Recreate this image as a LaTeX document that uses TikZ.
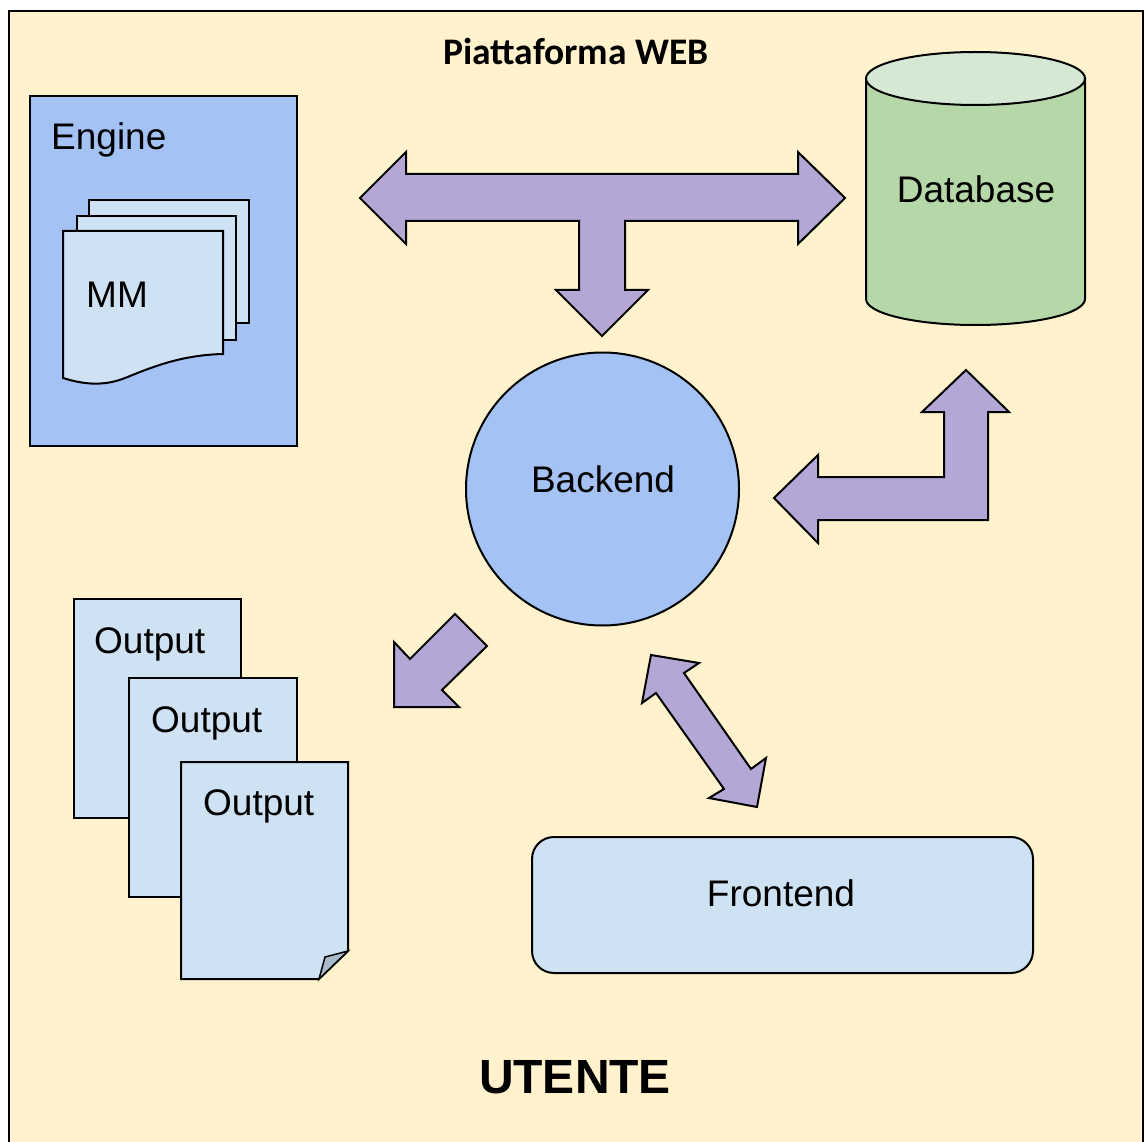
\documentclass[tikz,border=0pt]{standalone}
\usepackage{fontspec}
\setmainfont{Liberation Sans}
\newfontfamily\calibri{Carlito}
\usetikzlibrary{shapes.geometric}
\definecolor{bgyellow}{HTML}{FFF2CC}
\definecolor{engblue}{HTML}{A4C2F4}
\definecolor{docblue}{HTML}{CFE2F3}
\definecolor{arrowpurple}{HTML}{B4A7D6}
\definecolor{dbgreen}{HTML}{B6D7A8}
\definecolor{dbtopgreen}{HTML}{D5E8D4}
\definecolor{foldgray}{HTML}{A9BACB}
\tikzset{
  lbl/.style={font=\fontsize{37}{40}\selectfont, inner sep=0pt},
  outl/.style={draw=black, line width=2pt},
  blockarrow/.style={outl, fill=arrowpurple, line join=miter},
  docpage/.style={outl, fill=docblue},
}
\begin{document}
\begin{tikzpicture}[x=1pt,y=-1pt]
\useasboundingbox (0,0) rectangle (1144,1142);
\clip (0,0) rectangle (1144,1142);
\fill[white] (0,0) rectangle (1144,1142);
% outer frame
\draw[outl, fill=bgyellow] (9,11) rectangle (1143,1170);
\node[inner sep=0pt, anchor=base, font=\calibri\bfseries\fontsize{37.5}{40}\selectfont] (title) at (576,65) {Piattaforma WEB};

% Engine
\node[outl, fill=engblue, anchor=north west, minimum width=267pt, minimum height=350pt, inner sep=0pt] (engine) at (29,95) {};
\node[lbl, anchor=base west] (enginelbl) at (51,150) {Engine};
\draw[docpage] (89,200) rectangle (249,323);
\draw[docpage] (77,216) rectangle (236,340);
\draw[docpage] (63,231) -- (223,231) -- (223,354) .. controls (180,355) and (150,368) .. (125,378) .. controls (105,386) and (85,385) .. (63,378) -- cycle;
\node[lbl, anchor=base west] (mm) at (86,308) {MM};

% T arrow
\draw[blockarrow] (360,198) -- (406,152) -- (406,174) -- (798,174) -- (798,152) -- (845,198) -- (798,244) -- (798,221) -- (625,221) -- (625,290) -- (648,290) -- (602,336) -- (556,290) -- (579,290) -- (579,221) -- (406,221) -- (406,244) -- cycle;

% Database
\fill[dbgreen] (866,78) -- (866,299) .. controls (866,313.4) and (915,325) .. (975.5,325) .. controls (1036,325) and (1085,313.4) .. (1085,299) -- (1085,78) -- cycle;
\draw[outl] (866,78) -- (866,299) .. controls (866,313.4) and (915,325) .. (975.5,325) .. controls (1036,325) and (1085,313.4) .. (1085,299) -- (1085,78);
\node[ellipse, outl, fill=dbtopgreen, minimum width=219pt, minimum height=53pt, inner sep=0pt] (dbtop) at (975.5,78.5) {};
\node[lbl, anchor=base] (db) at (976,203) {Database};

% Backend
\node[circle, outl, fill=engblue, minimum size=273pt, inner sep=0pt] (backend) at (602.5,489) {};
\node[lbl, anchor=base] (backendlbl) at (603,492) {Backend};

% L arrow
\draw[blockarrow] (774,498) -- (818,455) -- (818,477) -- (944,477) -- (944,412) -- (922,412) -- (966,370) -- (1009,412) -- (988,412) -- (988,520) -- (818,520) -- (818,543) -- cycle;

% arrow to outputs
\draw[blockarrow] (394,642) -- (410,659) -- (455,614) -- (487,646) -- (442,690) -- (459,707) -- (394,707) -- cycle;

% double arrow backend-frontend
\draw[blockarrow] (651,655) -- (699,663) -- (684,673) -- (751,769) -- (766,758) -- (757,807) -- (709,798) -- (724,789) -- (656,693) -- (642,703) -- cycle;

% Outputs
\node[docpage, anchor=north west, minimum width=167pt, minimum height=219pt, inner sep=0pt] (out1) at (73,598) {};
\node[lbl, anchor=base west] (out1lbl) at (94,653) {Output};
\node[docpage, anchor=north west, minimum width=168pt, minimum height=219pt, inner sep=0pt] (out2) at (128,677) {};
\node[lbl, anchor=base west] (out2lbl) at (151,732) {Output};
\draw[docpage] (181,762) -- (348,762) -- (348,951) -- (319,979) -- (181,979) -- cycle;
\draw[outl, fill=foldgray, line width=1.5pt] (319,979) -- (325,957) -- (348,951) -- cycle;
\node[lbl, anchor=base west] (out3lbl) at (203,815) {Output};

% Frontend
\node[outl, fill=docblue, rounded corners=22pt, anchor=north west, minimum width=501pt, minimum height=136pt, inner sep=0pt] (frontend) at (531,836) {};
\node[lbl, anchor=base] (frontendlbl) at (781,906) {Frontend};

% UTENTE
\node[inner sep=0pt, anchor=base, font=\bfseries\fontsize{48}{52}\selectfont] (utente) at (575,1093) {UTENTE};
\end{tikzpicture}
\end{document}
